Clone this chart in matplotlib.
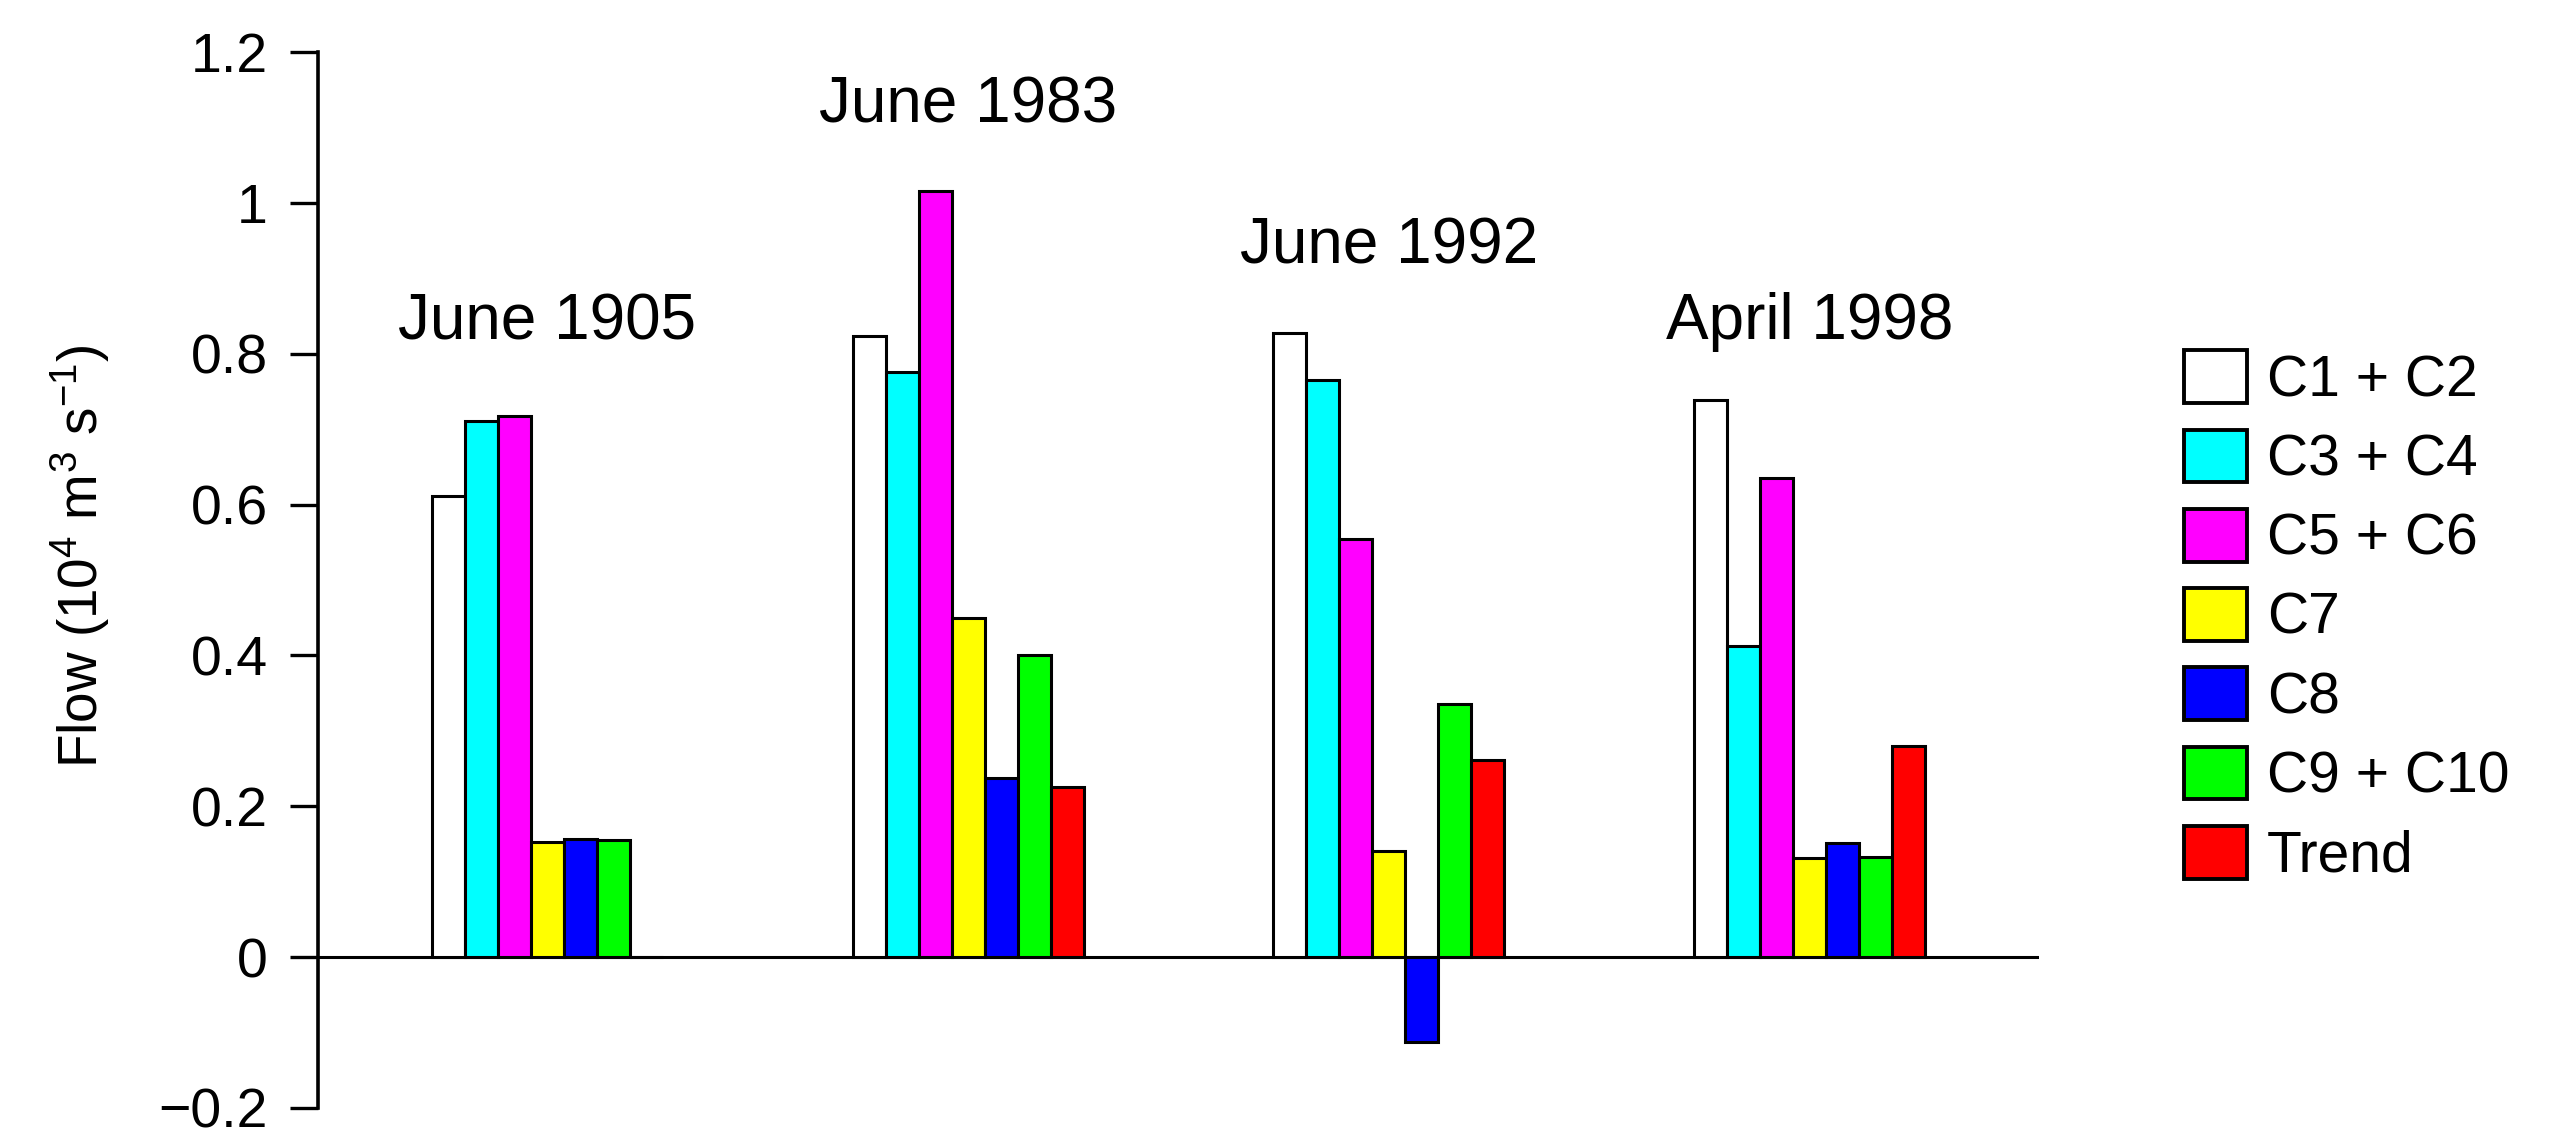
import matplotlib
matplotlib.use('Agg')
import matplotlib.pyplot as plt
from matplotlib.patches import Patch
import numpy as np

plt.rcParams['font.family'] = ['Liberation Sans', 'DejaVu Sans']
plt.rcParams['mathtext.fontset'] = 'custom'
plt.rcParams['mathtext.rm'] = 'Liberation Sans'
plt.rcParams['mathtext.it'] = 'Liberation Sans'
plt.rcParams['mathtext.default'] = 'regular'

# ---- data ----
events = ['June 1905', 'June 1983', 'June 1992', 'April 1998']
event_label_y = [0.819, 1.107, 0.920, 0.819]
components = ['C1 + C2', 'C3 + C4', 'C5 + C6', 'C7', 'C8', 'C9 + C10', 'Trend']
colors = ['#FFFFFF', '#00FFFF', '#FF00FF', '#FFFF00', '#0000FF', '#00FF00', '#FF0000']
c1_c2 = [0.611, 0.823, 0.828, 0.738]
c3_c4 = [0.711, 0.776, 0.765, 0.413]
c5_c6 = [0.717, 1.016, 0.555, 0.635]
c7 = [0.153, 0.450, 0.141, 0.132]
c8 = [0.157, 0.237, -0.112, 0.151]
c9_c10 = [0.155, 0.400, 0.336, 0.133]
trend = [0.0, 0.226, 0.262, 0.280]
yticks = [-0.2, 0.0, 0.2, 0.4, 0.6, 0.8, 1.0, 1.2]
ytick_labels = ['\u22120.2', '0', '0.2', '0.4', '0.6', '0.8', '1', '1.2']
ylabel = 'Flow (10$^{4}$ m$^{3}$ s$^{\u22121}$)'

series = [c1_c2, c3_c4, c5_c6, c7, c8, c9_c10, trend]

# ---- layout ----
W, H = 2562, 1134
fig = plt.figure(figsize=(W / 100, H / 100), dpi=100)
ax_left, ax_right = 318, 2039
ax_top, ax_bot = 52, 1108
ax = fig.add_axes([ax_left / W, 1 - ax_bot / H, (ax_right - ax_left) / W, (ax_bot - ax_top) / H])

group_step = 12.75
bar_w = 1.0
n_comp = len(components)
group_x = np.arange(len(events)) * group_step

lw = 2.2
for i, (vals, col, name) in enumerate(zip(series, colors, components)):
    ax.bar(group_x + i * bar_w, vals, width=bar_w, align='edge', color=col,
           edgecolor='black', linewidth=lw, label=name, zorder=2)

ax.axhline(0, color='black', linewidth=lw, zorder=1)

# event labels above groups
for g, ev in enumerate(events):
    ax.text(group_x[g] + n_comp * bar_w / 2, event_label_y[g], ev, ha='center', va='baseline',
            fontsize=46, clip_on=False)

ax.set_xlim(-3.445, 48.7)
ax.set_ylim(-0.2, 1.2)
ax.set_yticks(yticks)
ax.set_yticklabels(ytick_labels)
ax.tick_params(axis='y', labelsize=40, length=20, width=2.4, pad=16)
ax.set_xticks([])
for s in ['top', 'right', 'bottom']:
    ax.spines[s].set_visible(False)
ax.spines['left'].set_linewidth(2.6)

fig.text(80 / W, 1 - 556 / H, ylabel, rotation=90, ha='center', va='center', fontsize=39.5)

handles = [Patch(facecolor=c, edgecolor='black', linewidth=2.8) for c in colors]
fs = 41
leg = fig.legend(handles, components, loc='center left',
                 bbox_to_anchor=(2184 / W, 1 - 617 / H), frameon=False, fontsize=fs,
                 handlelength=1.105, handleheight=1.05, handletextpad=0.35,
                 labelspacing=0.376, borderpad=0, borderaxespad=0)

fig.savefig('out.png', dpi=100)
